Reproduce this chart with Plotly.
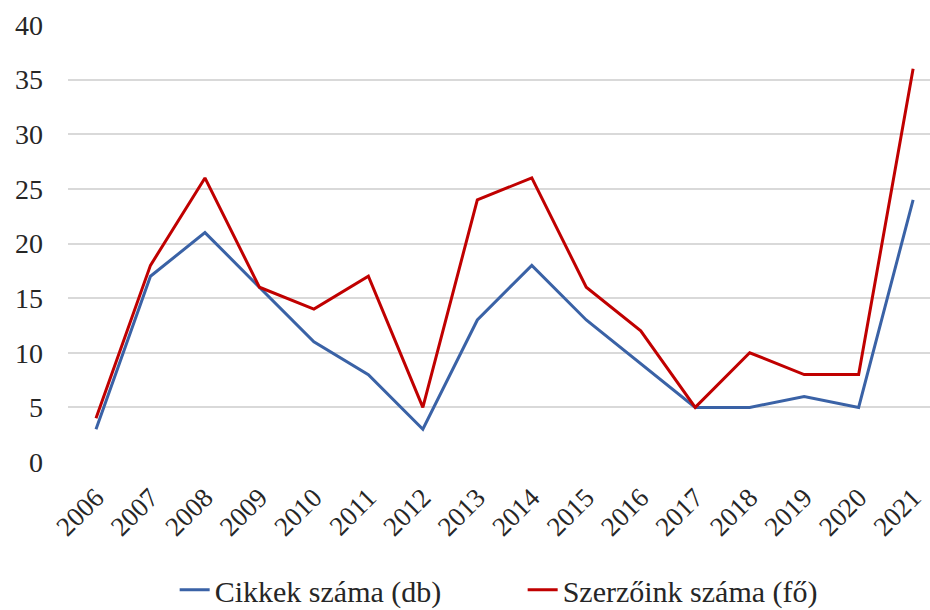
import plotly.graph_objects as go

years = ["2006", "2007", "2008", "2009", "2010", "2011", "2012", "2013",
         "2014", "2015", "2016", "2017", "2018", "2019", "2020", "2021"]
cikkek = [3, 17, 21, 16, 11, 8, 3, 13, 18, 13, 9, 5, 5, 6, 5, 24]
szerzok = [4, 18, 26, 16, 14, 17, 5, 24, 26, 16, 12, 5, 10, 8, 8, 36]
y_ticks = [0, 5, 10, 15, 20, 25, 30, 35, 40]

font_family = "Liberation Serif, DejaVu Serif, serif"

fig = go.Figure()
fig.add_trace(go.Scatter(x=years, y=cikkek, mode="lines", name="Cikkek száma (db)",
                         line=dict(color="#3A62A6", width=3)))
fig.add_trace(go.Scatter(x=years, y=szerzok, mode="lines", name="Szerzőink száma (fő)",
                         line=dict(color="#C00000", width=3)))

fig.update_layout(
    width=930, height=610,
    margin=dict(l=68, r=0, t=25, b=148, autoexpand=False),
    paper_bgcolor="white", plot_bgcolor="white",
    font=dict(family=font_family, size=28, color="#262626"),
    showlegend=True,
    legend=dict(orientation="h", xref="container", x=0.562, xanchor="center",
                yref="container", y=0.033, yanchor="middle",
                font=dict(size=30), traceorder="normal", entrywidth=303,
                entrywidthmode="pixels"),
    xaxis=dict(type="category", range=[-0.514, 15.31], tickangle=-45,
               showgrid=False, zeroline=False, showline=False, automargin=False,
               tickfont=dict(size=27), ticks="outside", ticklen=8, tickcolor="rgba(0,0,0,0)"),
    yaxis=dict(range=[0, 40], tickvals=y_ticks, showgrid=True, gridcolor="#D9D9D9",
               gridwidth=1.5, zeroline=False, showline=False, ticks="", automargin=False,
               ticklabelstandoff=24, tickfont=dict(size=28)),
)

fig.write_html("out.html", config={"displayModeBar": False},
               post_script="document.body.style.margin='0';document.body.style.overflow='hidden';")
